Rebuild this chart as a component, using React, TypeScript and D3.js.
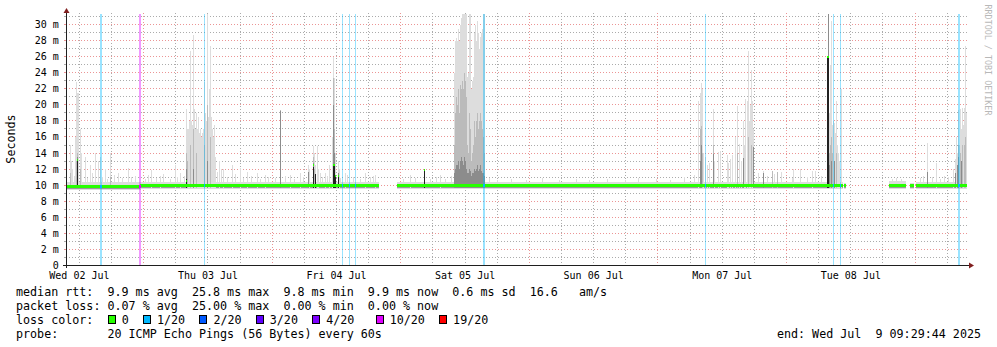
import React from 'react';
import * as d3 from 'd3';

// ---------- time frame ----------
const END_TIME = new Date(2025, 6, 9, 9, 29, 44);
const START_TIME = new Date(END_TIME.getTime() - 7 * 24 * 3600 * 1000);
const DAY0 = new Date(2025, 6, 2, 0, 0, 0); // hours below are counted from Wed 02 Jul 00:00

// ---------- axis labels ----------
const yTickValues = [0, 2, 4, 6, 8, 10, 12, 14, 16, 18, 20, 22, 24, 26, 28, 30];
const yTickLabels = ['0', '2 m', '4 m', '6 m', '8 m', '10 m', '12 m', '14 m', '16 m', '18 m', '20 m', '22 m', '24 m', '26 m', '28 m', '30 m'];
const dayLabelHours = [12, 36, 60, 84, 108, 132, 156];
const dayLabels = ['Wed 02 Jul', 'Thu 03 Jul', 'Fri 04 Jul', 'Sat 05 Jul', 'Sun 06 Jul', 'Mon 07 Jul', 'Tue 08 Jul'];

// ---------- data (ms) ----------
// baseline segments
const segStart = [9.5, 23.22, 71.1, 154.64, 163.0, 167.0, 168.0];
const segEnd = [23.22, 67.64, 154.2, 154.83, 165.97, 167.47, 177.4];
const segLow = [9.45, 9.5, 9.5, 9.5, 9.5, 9.5, 9.5];
const segQ1 = [9.5, 9.6, 9.6, 9.6, 9.6, 9.6, 9.6];
const segMedian = [9.87, 9.97, 9.97, 9.97, 9.97, 9.97, 9.97];
const segHigh = [10.35, 10.35, 10.35, 10.3, 10.5, 10.3, 10.4];

// spikes: [hour, max, upper, mid, inner, median]
const spikes: number[][] = [
  // Wed 02
  [10.15, 15, 11.5], [10.34, 13], [10.52, 12], [11.08, 16], [11.27, 22.9, 13],
  [11.46, 21.5, 14, 13.5, 13.1, 13.1], [11.64, 21.5], [12.02, 17, 12], [12.2, 14],
  [12.95, 13.5], [13.88, 12.5], [14.82, 14], [15.38, 13], [15.75, 13.5], [16.68, 12],
  [17.62, 14, 11], [19.11, 11.5], [20.98, 12.2], [22.28, 11.2], [25.27, 11.9],
  [26.95, 11.2], [29.75, 12.5], [30.68, 11.5],
  // Thu 03
  [31.8, 19.5, 14, 12, 10.8, 10.5], [31.99, 17, 13], [32.17, 17], [32.36, 18],
  [32.55, 26.7, 15], [32.74, 18], [32.92, 17.5], [33.11, 28.7, 17, 12], [33.3, 19.5],
  [33.48, 17], [33.67, 19, 14], [33.86, 17], [34.04, 18.5], [34.23, 16.5], [34.42, 17],
  [34.6, 16], [34.79, 16.5], [34.98, 17], [35.16, 22.8, 15], [35.35, 19], [35.54, 18],
  [35.72, 31.3, 20, 13], [35.91, 18.5], [36.1, 22], [36.28, 27.3, 16], [36.47, 18.5],
  [36.66, 17], [36.84, 16], [37.03, 17.5], [37.22, 13.5], [37.96, 13], [38.7, 12],
  [40.39, 12.5], [41.89, 12.1], [43.19, 11.7], [45.06, 11.5], [46.55, 11.3],
  // Fri 04
  [49.35, 19.4, 19.3, 19.2], [51.22, 11.3], [53.08, 11.5], [54.58, 12.5, 11.7, 11.7], [54.77, 12],
  [55.51, 14.9, 13.5, 12.8, 12.3, 12.5], [55.7, 14, 12], [55.89, 12.5, 11.4, 11.4, 11.4],
  [56.26, 14.9], [56.45, 12], [57.75, 11.5], [58.5, 12.5], [59.05, 16],
  [59.24, 26, 23.4, 20, 12.5, 12.5], [59.43, 23.4, 17, 14, 12.5, 12.5],
  [59.62, 14, 11.3, 11.3, 11.1, 11.1], [60.18, 13, 11.5, 11.5, 11.2, 11.2], [60.37, 12],
  [61.5, 11.5], [65.22, 11.5], [67.08, 11.3],
  // Sat 05
  [73.62, 11.3], [76.14, 12, 11.9, 11.9, 11.9, 11.9], [79.21, 11.3],
  [81.83, 24, 15, 11.5], [82.02, 28, 19, 12], [82.2, 28.3, 21, 12.5],
  [82.39, 28, 20, 12.5], [82.58, 29.5, 22, 13], [82.76, 28, 19, 12],
  [82.95, 30, 22.5, 13], [83.14, 30.8, 22, 13.5], [83.32, 31.3, 23, 13],
  [83.51, 31.3, 22, 12.5], [83.7, 31.3, 24, 13.5], [83.88, 31.3, 23, 13],
  [84.07, 31.3, 21, 12], [84.26, 23.5, 15, 11.5], [84.44, 24, 14, 11.5],
  [84.63, 31.3, 19, 12], [84.82, 31.3, 17, 11.8], [85.0, 22, 13, 11.2],
  [85.19, 23, 14, 11.5], [85.38, 23.5, 15, 11.5], [85.56, 29, 18, 12],
  [85.75, 30, 16, 11.8], [85.94, 28, 18, 12], [86.12, 30.5, 19, 12.5],
  [86.31, 29, 17, 11.8], [86.5, 27, 18, 12], [86.68, 28.5, 19, 12.5],
  [86.87, 29, 18, 11.8], [87.06, 29.5, 17, 11.5], [87.24, 31.3, 16, 11.5],
  [87.43, 31.3, 14, 11.2],
  // Mon 07
  [127.43, 20.5], [127.75, 21.5, 17, 13], [127.94, 22.7, 17.4, 15], [128.12, 22, 14],
  [128.31, 14], [128.68, 13.5], [129.05, 12.5], [129.42, 12.8], [130.24, 19.5, 15, 13.9],
  [130.43, 13], [131.17, 14.1], [131.49, 14.3], [132.73, 13.7], [132.92, 12.7],
  [133.3, 13.2], [133.67, 13.7], [134.29, 16], [134.72, 19.9, 14], [134.98, 15.1],
  [135.35, 13], [135.72, 18, 13.4, 13.4], [135.97, 15], [136.15, 20.7], [136.47, 20.5],
  [136.66, 26.7, 16], [136.84, 18], [137.03, 20], [137.22, 24.4, 15], [137.4, 20.5],
  [137.59, 17], [137.7, 14.7, 14.7, 14.7], [139.46, 11.5, 11.5, 11.5],
  [141.13, 11.8, 11.8], [142.07, 11.6, 11.6], [145.17, 12], [148.6, 11.8],
  // Tue 08
  [151.46, 26, 26, 26, 25.9, 25.9], [151.65, 31.3, 31.3, 31.3, 25.9, 25.9],
  [151.83, 19, 14, 12.5], [152.02, 25, 15], [152.21, 30.5, 16, 13], [152.39, 17.5, 14],
  [152.58, 18], [152.77, 17.8, 13, 13], [152.95, 16.5], [153.14, 20.5, 14],
  [153.33, 15], [153.51, 14], [153.7, 13], [154.07, 22],
  // Wed 09
  [170.13, 15.3, 11.7, 11.7], [171.81, 12.8], [174.98, 12], [175.35, 13.3, 11.5, 11.5],
  [175.54, 16], [175.72, 14, 12.5, 12.5], [175.91, 19.4, 15, 13.5], [176.1, 15],
  [176.28, 19.5, 14], [176.47, 17, 13, 13], [176.66, 19.6, 15], [176.84, 17.5],
  [177.03, 19.6, 15], [177.22, 27.3, 16], [177.4, 19],
];

// small jitter above the baseline: [hour, max]
const bumps: number[][] = [
  [10.9, 11.2], [13.3, 10.9], [14.2, 11.5], [16.2, 11], [17.0, 10.8], [18.4, 11.3], [19.8, 10.9],
  [21.6, 11], [24.1, 10.8], [24.8, 11.3], [26.2, 10.9], [27.6, 11.4], [28.8, 10.8], [30.2, 11],
  [31.4, 11.2], [37.6, 11.6], [38.3, 12], [39.5, 11], [40.9, 11.4], [42.5, 10.9], [44.0, 11.2],
  [45.6, 10.8], [47.2, 11], [48.4, 10.9], [50.2, 11.1], [52.0, 10.8], [53.6, 11], [56.8, 11.5],
  [57.2, 11], [58.2, 11.2], [60.5, 10.9], [61.8, 11.3], [62.9, 11], [64.2, 10.8], [66.1, 11],
  [66.8, 11.2], [72.4, 10.8], [74.6, 10.9], [77.3, 10.8], [78.5, 11], [80.2, 10.8], [81.2, 11.2],
  [88.4, 10.9], [89.9, 10.7], [92.5, 10.8], [95.3, 10.7], [98.2, 10.9], [101.4, 10.7],
  [104.6, 10.8], [107.1, 10.7], [110.3, 10.8], [113.8, 10.7], [116.2, 10.9], [119.5, 10.8],
  [122.2, 10.7], [124.8, 11], [126.6, 11.3], [138.6, 11.5], [139.5, 11.8], [140.2, 11.2],
  [141.5, 11.4], [142.8, 11.7], [145.0, 10.9], [146.4, 12], [147.7, 11], [149.2, 11.8],
  [150.4, 11.2], [163.5, 10.8], [164.3, 10.9], [165.2, 10.8], [168.8, 10.9], [169.4, 11.2],
  [171.0, 11], [172.5, 10.8], [173.3, 11.2], [174.1, 11],
];

// packet loss events: [hour, index into lossColors]
const lossEvents: number[][] = [
  [15.75, 1], [15.93, 1], [23.03, 5], [23.22, 5], [35.16, 1], [60.92, 1], [62.23, 1],
  [63.35, 1], [87.24, 1], [87.43, 1], [128.68, 1], [152.58, 1], [153.88, 1],
  [175.91, 1], [176.1, 1],
];
const lossColors = ['#26ff00', '#00b8ff', '#0059ff', '#5e00ff', '#7e00ff', '#dd00ff', '#ff0000'];
const lossLabels = ['0', '1/20', '2/20', '3/20', '4/20', '10/20', '19/20'];

// ---------- legend text ----------
const legendRtt = 'median rtt:  9.9 ms avg  25.8 ms max  9.8 ms min  9.9 ms now  0.6 ms sd  16.6   am/s';
const legendLoss = 'packet loss: 0.07 % avg  25.00 % max  0.00 % min  0.00 % now';
const legendColorTitle = 'loss color:';
const legendProbe = 'probe:       20 ICMP Echo Pings (56 Bytes) every 60s';
const legendEnd = 'end: Wed Jul  9 09:29:44 2025';
const watermark = 'RRDTOOL / TOBI OETIKER';
const yTitle = 'Seconds';

const MONO = '"DejaVu Sans Mono", "Liberation Mono", monospace';

export default function App() {
  const W = 997, H = 347;
  const x = d3.scaleTime().domain([START_TIME, END_TIME]).range([66, 966]);
  const y = d3.scaleLinear().domain([0, 31.3]).range([265.5, 14.1]);
  const hd = (h: number) => new Date(DAY0.getTime() + h * 3600e3);
  const col = (h: number) => Math.round(x(hd(h)) + 0.5);
  const yl = (v: number) => Math.floor(y(v)) + 0.5;

  const plotTop = 13, plotBottom = 265, plotLeft = 66, plotRight = 966;

  const vTimes = d3.timeHour.every(6)!.range(START_TIME, END_TIME);
  const hVals = d3.range(1, 32);

  const shades = ['#dddddd', '#bbbbbb', '#8c8c8c', '#222222'];

  const charW = 7.05;
  const legX = 16;
  const lineY = [295.5, 309.7, 323.9, 338.1];
  const boxIdx = [13, 18, 26, 34, 42, 51, 60];

  const segIdx = d3.range(segStart.length);
  const segX0 = segIdx.map(i => col(segStart[i]));
  const segX1 = segIdx.map(i => col(segEnd[i]) + 1);
  const segY = segIdx.map(i => Math.round(y(segMedian[i]) - 1.5));

  const lossCols = lossEvents.map(([h, li]) => {
    const cx = col(h);
    const k = segIdx.find(j => cx >= segX0[j] && cx < segX1[j]);
    return { cx, li, yy: k !== undefined ? segY[k] : segY[1] };
  });

  return (
    <svg width={W} height={H} style={{ position: 'absolute', left: 0, top: 0, background: '#fff' }}>
      <rect x={0} y={0} width={W} height={H} fill="#ffffff" />
      {/* grid */}
      <g shapeRendering="crispEdges">
        {hVals.filter(v => v % 2 === 1).map(v => (
          <line key={'hm' + v} x1={plotLeft} x2={plotRight + 2} y1={yl(v)} y2={yl(v)} stroke="#ababab" strokeDasharray="1,2" />
        ))}
        {vTimes.filter(t => t.getHours() !== 0).map(t => (
          <line key={'vm' + t.getTime()} x1={Math.floor(x(t)) + 0.5} x2={Math.floor(x(t)) + 0.5} y1={plotTop} y2={plotBottom} stroke="#ababab" strokeDasharray="1,2" />
        ))}
        {yTickValues.filter(v => v > 0).map(v => (
          <line key={'hM' + v} x1={plotLeft} x2={plotRight + 2} y1={yl(v)} y2={yl(v)} stroke="#eb9595" strokeDasharray="1,2" />
        ))}
        {vTimes.filter(t => t.getHours() === 0).map(t => (
          <line key={'vM' + t.getTime()} x1={Math.floor(x(t)) + 0.5} x2={Math.floor(x(t)) + 0.5} y1={plotTop} y2={plotBottom} stroke="#eb9595" strokeDasharray="1,2" />
        ))}
      </g>

      {/* baseline smoke */}
      <g shapeRendering="crispEdges">
        {segIdx.map(i => (
          <g key={'seg' + i}>
            <rect x={segX0[i]} y={y(segHigh[i])} width={segX1[i] - segX0[i]} height={y(segLow[i]) - y(segHigh[i])} fill="#dddddd" />
            <rect x={segX0[i]} y={y(segMedian[i])} width={segX1[i] - segX0[i]} height={y(segQ1[i]) - y(segMedian[i])} fill="#999999" />
          </g>
        ))}
        {bumps.map(([h, mx], i) => (
          <rect key={'b' + i} x={col(h)} y={y(mx)} width={1} height={y(10) - y(mx)} fill="#dddddd" />
        ))}
      </g>

      {/* spike smoke */}
      <g shapeRendering="crispEdges">
        {spikes.map((s, i) => {
          const cx = col(s[0]);
          const bands = [s[1], s[2], s[3], s[4]];
          return (
            <g key={'s' + i}>
              {bands.map((v, j) => (v ? (
                <rect key={j} x={cx} y={y(v)} width={1} height={y(9.7) - y(v)} fill={shades[j]} />
              ) : null))}
            </g>
          );
        })}
      </g>

      {/* loss bars */}
      <g shapeRendering="crispEdges">
        {lossCols.map((l, i) => (
          <rect key={'l' + i} x={l.cx} y={plotTop + 1} width={1} height={plotBottom - plotTop - 1} fill={lossColors[l.li]} fillOpacity={0.4} />
        ))}
      </g>

      {/* median line (green = no loss) */}
      <g shapeRendering="crispEdges">
        {segIdx.map(i => (
          <rect key={'med' + i} x={segX0[i]} y={segY[i]} width={segX1[i] - segX0[i]} height={3} fill="#26ff00" />
        ))}
        {lossCols.map((l, i) => (
          <rect key={'ml' + i} x={l.cx} y={l.yy} width={1} height={3} fill={lossColors[l.li]} />
        ))}
        {spikes.filter(s => s[5]).map((s, i) => (
          <rect key={'mt' + i} x={col(s[0])} y={Math.round(y(s[5]) - 1)} width={1} height={2} fill="#26ff00" />
        ))}
      </g>

      {/* axes */}
      <g shapeRendering="crispEdges">
        {hVals.map(v => (
          <line key={'tk' + v} x1={plotLeft - 2} x2={plotLeft} y1={yl(v)} y2={yl(v)} stroke={v % 2 ? '#ababab' : '#eb9595'} />
        ))}
        <line x1={plotLeft + 0.5} x2={plotLeft + 0.5} y1={plotBottom + 3} y2={11} stroke="#1f1f1f" />
        <line x1={plotLeft - 3} x2={plotRight + 4} y1={plotBottom + 0.5} y2={plotBottom + 0.5} stroke="#1f1f1f" />
      </g>
      <path d={`M${plotLeft - 2.5},13 L${plotLeft + 3.5},13 L${plotLeft + 0.5},8 Z`} fill="#801f1f" />
      <path d={`M${plotRight + 3},${plotBottom - 2.5} L${plotRight + 3},${plotBottom + 3.5} L${plotRight + 8},${plotBottom + 0.5} Z`} fill="#801f1f" />

      {/* tick labels */}
      <g fontFamily={MONO} fontSize={10} fill="#000">
        {yTickValues.map((v, i) => (
          <text key={'yl' + v} x={58.8} y={yl(v) + 3.6} textAnchor="end" style={{ whiteSpace: 'pre' }}>{yTickLabels[i]}</text>
        ))}
        {dayLabelHours.map((h, i) => (
          <text key={'xl' + h} x={x(hd(h))} y={279} textAnchor="middle" style={{ whiteSpace: 'pre' }}>{dayLabels[i]}</text>
        ))}
      </g>

      {/* y title */}
      <text transform="translate(15,139) rotate(-90)" textAnchor="middle" fontFamily={MONO} fontSize={11.7} fill="#000">{yTitle}</text>

      {/* watermark */}
      <text transform="translate(984.5,60) rotate(90)" textAnchor="middle" fontFamily={MONO} fontSize={8.4} fill="#b8b8b8">{watermark}</text>

      {/* legend */}
      <g fontFamily={MONO} fontSize={11.7} fill="#000">
        <text x={legX} y={lineY[0]} style={{ whiteSpace: 'pre' }}>{legendRtt}</text>
        <text x={legX} y={lineY[1]} style={{ whiteSpace: 'pre' }}>{legendLoss}</text>
        <text x={legX} y={lineY[2]} style={{ whiteSpace: 'pre' }}>{legendColorTitle}</text>
        {lossColors.map((c, i) => (
          <g key={'lg' + i}>
            <rect x={legX + boxIdx[i] * charW + 0.5} y={315.5} width={7} height={7.5} fill={c} stroke="#000" strokeWidth={1} shapeRendering="crispEdges" />
            <text x={legX + (boxIdx[i] + 2) * charW} y={lineY[2]} style={{ whiteSpace: 'pre' }}>{lossLabels[i]}</text>
          </g>
        ))}
        <text x={legX} y={lineY[3]} style={{ whiteSpace: 'pre' }}>{legendProbe}</text>
        <text x={981} y={lineY[3]} textAnchor="end" style={{ whiteSpace: 'pre' }}>{legendEnd}</text>
      </g>
    </svg>
  );
}
